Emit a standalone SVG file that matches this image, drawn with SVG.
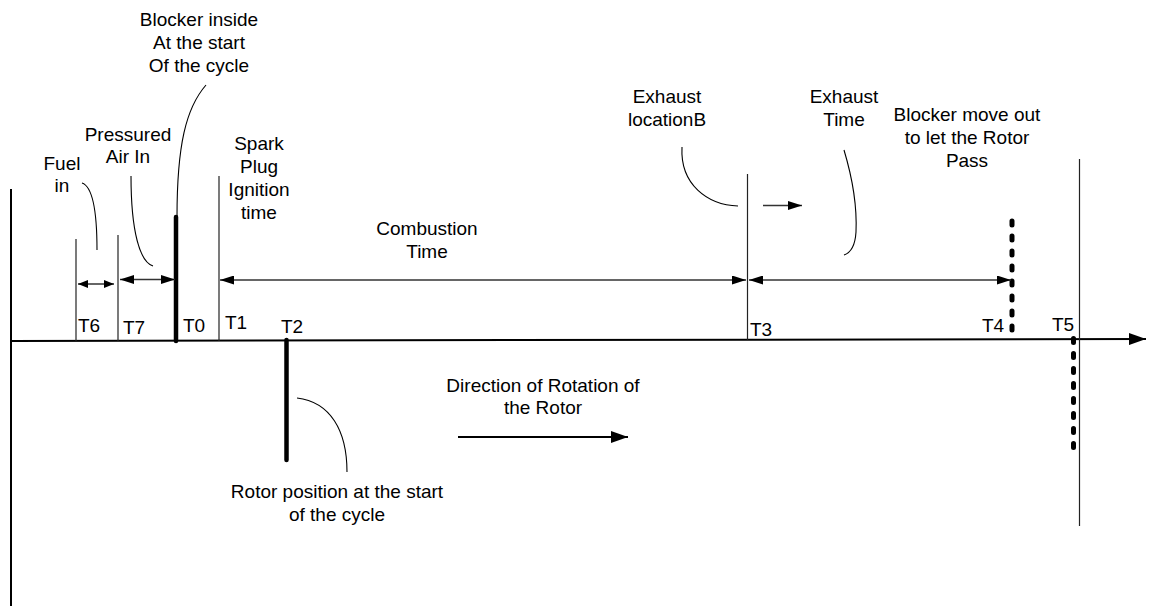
<svg xmlns="http://www.w3.org/2000/svg" width="1151" height="613" viewBox="0 0 1151 613">
<style>
text{font-family:"Liberation Sans",Arial,sans-serif;font-size:19px;fill:#000}
.c{text-anchor:middle}
.thin{stroke:#222;stroke-width:1.2;fill:none}
.thick{stroke:#000;stroke-width:4.5;stroke-linecap:round;fill:none}
.dot{stroke:#000;stroke-width:5;stroke-linecap:round;stroke-dasharray:4 11;fill:none}
.lead{stroke:#000;stroke-width:1.1;fill:none}
.dim{stroke:#333;stroke-width:1.3;fill:none}
</style>
<defs>
<marker id="ah" viewBox="0 0 14 9" refX="14" refY="4.5" markerWidth="14" markerHeight="9" markerUnits="userSpaceOnUse" orient="auto-start-reverse"><path d="M0,0 L14,4.5 L0,9 z" fill="#000"/></marker>
<marker id="ahs" viewBox="0 0 10 8" refX="10" refY="4" markerWidth="10" markerHeight="8" markerUnits="userSpaceOnUse" orient="auto-start-reverse"><path d="M0,0 L10,4 L0,8 z" fill="#000"/></marker>
<marker id="ahb" viewBox="0 0 17 12" refX="17" refY="6" markerWidth="17" markerHeight="12" markerUnits="userSpaceOnUse" orient="auto-start-reverse"><path d="M0,0 L17,6 L0,12 z" fill="#000"/></marker>
</defs>

<g id="axes">
<line x1="11" y1="189" x2="11" y2="606" stroke="#000" stroke-width="2"/>
<line x1="11" y1="341" x2="1146" y2="339" stroke="#000" stroke-width="2" marker-end="url(#ahb)"/>
</g>

<g id="T6">
<line class="thin" x1="76" y1="239" x2="76" y2="341"/>
<text x="78" y="332">T6</text>
</g>
<g id="T7">
<line class="thin" x1="118" y1="235" x2="118" y2="341"/>
<text x="123" y="334">T7</text>
</g>
<g id="T0">
<line class="thick" x1="176" y1="217" x2="176" y2="341"/>
<text x="183" y="332">T0</text>
</g>
<g id="T1">
<line class="thin" x1="219" y1="176" x2="219" y2="341"/>
<text x="225" y="329">T1</text>
</g>
<g id="T2">
<line class="thick" x1="286.5" y1="340" x2="286.5" y2="460"/>
<text x="281" y="333">T2</text>
</g>
<g id="T3">
<line class="thin" x1="747.5" y1="174" x2="747.5" y2="340"/>
<text x="750" y="336">T3</text>
</g>
<g id="T4">
<line class="dot" x1="1012" y1="221" x2="1012" y2="330"/>
<text x="982" y="332">T4</text>
</g>
<g id="T5">
<line class="thin" x1="1079.5" y1="159" x2="1079.5" y2="526"/>
<line class="dot" x1="1073.5" y1="338.5" x2="1073.5" y2="448"/>
<text x="1052" y="331">T5</text>
</g>

<g id="label-fuel">
<text class="c" x="62" y="170">Fuel</text>
<text class="c" x="62" y="192">in</text>
</g>
<g id="label-air">
<text class="c" x="128" y="141">Pressured</text>
<text class="c" x="128" y="163">Air In</text>
</g>
<g id="label-blocker-in">
<text class="c" x="199" y="26">Blocker inside</text>
<text class="c" x="199" y="49">At the start</text>
<text class="c" x="199" y="72">Of the cycle</text>
</g>
<g id="label-spark">
<text class="c" x="259" y="150">Spark</text>
<text class="c" x="259" y="173">Plug</text>
<text class="c" x="259" y="196">Ignition</text>
<text class="c" x="259" y="219">time</text>
</g>
<g id="label-combustion">
<text class="c" x="427" y="235">Combustion</text>
<text class="c" x="427" y="258">Time</text>
</g>
<g id="label-exhaust-loc">
<text class="c" x="667" y="103">Exhaust</text>
<text class="c" x="667" y="126">locationB</text>
</g>
<g id="label-exhaust-time">
<text class="c" x="844" y="103">Exhaust</text>
<text class="c" x="844" y="126">Time</text>
</g>
<g id="label-blocker-out">
<text class="c" x="967" y="121">Blocker move out</text>
<text class="c" x="967" y="144">to let the Rotor</text>
<text class="c" x="967" y="167">Pass</text>
</g>
<g id="label-direction">
<text class="c" x="543" y="392">Direction of Rotation of</text>
<text class="c" x="543" y="414">the Rotor</text>
</g>
<g id="label-rotor">
<text class="c" x="337" y="498">Rotor position at the start</text>
<text class="c" x="337" y="521">of the cycle</text>
</g>

<g id="connectors">
<line class="dim" x1="78" y1="284" x2="114" y2="284" marker-start="url(#ahs)" marker-end="url(#ahs)"/>
<line class="dim" x1="120" y1="279.5" x2="175" y2="279.5" marker-start="url(#ah)" marker-end="url(#ah)"/>
<line class="dim" x1="220" y1="280" x2="746" y2="280" marker-start="url(#ah)" marker-end="url(#ah)"/>
<line class="dim" x1="749" y1="280" x2="1011" y2="280" marker-start="url(#ah)" marker-end="url(#ah)"/>
<line class="dim" x1="763" y1="205.5" x2="802" y2="205.5" marker-end="url(#ah)"/>
<line x1="458" y1="437" x2="628" y2="437" stroke="#000" stroke-width="2" marker-end="url(#ahb)"/>
<path class="lead" d="M82,183 Q97,188 97,250"/>
<path class="lead" d="M131,176 C131,232 140,262 153,266"/>
<path class="lead" d="M206,85 C186,108 177,145 177,217"/>
<path class="lead" d="M297,398 C330,402 347,430 347,472"/>
<path class="lead" d="M682,147 C680,185 708,205 738,206"/>
<path class="lead" d="M844,150 C853,180 857,210 856,232 C855,248 850,253 844,255"/>
</g>
</svg>
